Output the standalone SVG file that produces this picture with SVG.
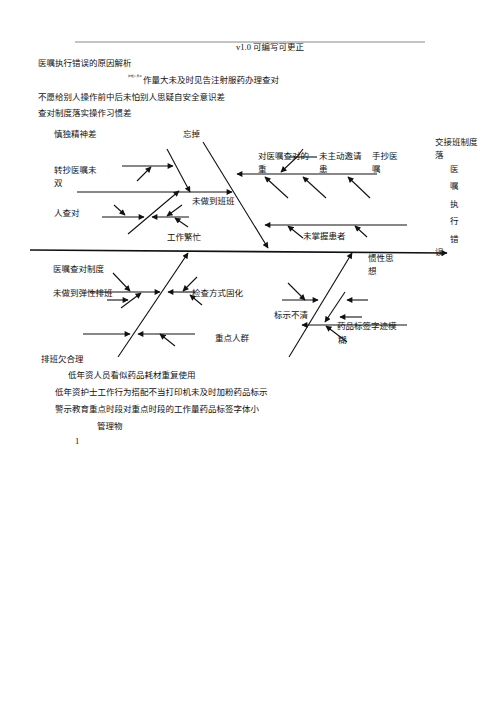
<svg xmlns="http://www.w3.org/2000/svg" width="500" height="708" viewBox="0 0 500 708">
<style>
text{font-family:"Liberation Serif","Noto Sans CJK SC",serif;font-size:8.5px;fill:#111}
.l{stroke:#111;stroke-width:1.1;fill:none}
.a{stroke:#111;stroke-width:1.1;fill:none;marker-end:url(#ah)}
.s{stroke:#111;stroke-width:1.6;fill:none;marker-end:url(#ah)}
.hd{stroke:#888;stroke-width:1}
</style>
<defs>
<marker id="ah" viewBox="0 0 10 10" refX="9" refY="5" markerWidth="7" markerHeight="6" markerUnits="userSpaceOnUse" orient="auto">
<path d="M0,0 L10,5 L0,10 z" fill="#111"/>
</marker>
</defs>
<rect width="500" height="708" fill="#fff"/>
<g id="header">
<line class="hd" x1="75" y1="42" x2="425" y2="42"/>
<text x="236" y="50">v1.0 可编写可更正</text>
</g>
<g id="intro">
<text x="38" y="66">医嘱执行错误的原因解析</text>
<text x="128" y="77" style="font-size:2.8px">护理人员工</text>
<text x="143" y="83">作量大未及时见告注射服药办理查对</text>
<text x="38" y="100">不愿给别人操作前中后未怕别人思疑自安全意识差</text>
<text x="38" y="116">查对制度落实操作习惯差</text>
</g>
<g id="connectors">
<line class="s" x1="30" y1="250" x2="447" y2="253"/>
<line class="a" x1="203" y1="142" x2="268" y2="248"/>
<line class="a" x1="167" y1="149" x2="190" y2="192"/>
<line class="a" x1="77" y1="192" x2="232" y2="192"/>
<line class="a" x1="122" y1="166" x2="173" y2="166"/>
<line class="a" x1="137" y1="181" x2="151" y2="167"/>
<line class="a" x1="128" y1="234" x2="179" y2="191"/>
<line class="a" x1="102" y1="217" x2="144" y2="217"/>
<line class="a" x1="189" y1="217" x2="152" y2="217"/>
<line class="a" x1="114" y1="205" x2="125" y2="215"/>
<line class="a" x1="182" y1="205" x2="167" y2="216"/>
<line class="a" x1="188" y1="227" x2="175" y2="218"/>
<line class="a" x1="377" y1="174" x2="237" y2="174"/>
<line class="a" x1="288" y1="198" x2="265" y2="177"/>
<line class="a" x1="326" y1="198" x2="303" y2="177"/>
<line class="a" x1="370" y1="198" x2="348" y2="177"/>
<line class="l" x1="290" y1="157" x2="317" y2="157"/>
<line class="l" x1="297" y1="157" x2="303" y2="149"/>
<line class="a" x1="297" y1="157" x2="281" y2="172"/>
<line class="a" x1="407" y1="225" x2="265" y2="225"/>
<line class="a" x1="303" y1="238" x2="288" y2="226"/>
<line class="a" x1="367" y1="237" x2="355" y2="226"/>
<line class="a" x1="118" y1="357" x2="188" y2="253"/>
<line class="a" x1="90" y1="292" x2="160" y2="292"/>
<line class="a" x1="113" y1="273" x2="130" y2="291"/>
<line class="a" x1="121" y1="308" x2="141" y2="293"/>
<line class="a" x1="107" y1="300" x2="128" y2="300"/>
<line class="a" x1="195" y1="292" x2="168" y2="292"/>
<line class="a" x1="197" y1="277" x2="183" y2="291"/>
<line class="a" x1="202" y1="305" x2="190" y2="295"/>
<line class="a" x1="83" y1="334" x2="130" y2="334"/>
<line class="a" x1="195" y1="334" x2="138" y2="334"/>
<line class="a" x1="175" y1="346" x2="160" y2="334"/>
<line class="a" x1="289" y1="357" x2="352" y2="253"/>
<line class="a" x1="282" y1="300" x2="318" y2="300"/>
<line class="a" x1="288" y1="283" x2="305" y2="300"/>
<line class="a" x1="368" y1="300" x2="347" y2="300"/>
<line class="a" x1="345" y1="292" x2="325" y2="322"/>
<line class="a" x1="362" y1="317" x2="340" y2="317"/>
<line class="a" x1="407" y1="325" x2="302" y2="325"/>
<line class="a" x1="347" y1="342" x2="326" y2="326"/>
</g>
<g id="n-shendu"><text x="54" y="137">慎独精神差</text></g>
<g id="n-wangdiao"><text x="183" y="137">忘掉</text></g>
<g id="n-zhuanchao"><text x="54" y="173">转抄医嘱未</text><text x="54" y="186">双</text></g>
<g id="n-renchadui"><text x="54" y="216">人查对</text></g>
<g id="n-weizuodao"><text x="192" y="204">未做到班班</text></g>
<g id="n-gongzuo"><text x="167" y="240">工作繁忙</text></g>
<g id="n-duiyizhu"><text x="258" y="159">对医嘱查对的</text><text x="258" y="172">重</text></g>
<g id="n-weizhudong"><text x="319" y="159">未主动邀请</text><text x="319" y="172">患</text></g>
<g id="n-shouchao"><text x="372" y="159">手抄医</text><text x="372" y="172">嘱</text></g>
<g id="n-weizhangwo"><text x="303" y="239">未掌握患者</text></g>
<g id="n-jiaojieban"><text x="435" y="145">交接班制度</text><text x="435" y="158">落</text></g>
<g id="n-head">
<text x="450" y="172">医</text>
<text x="450" y="189">嘱</text>
<text x="450" y="207">执</text>
<text x="450" y="224">行</text>
<text x="450" y="242">错</text>
<text x="435" y="255">误</text>
</g>
<g id="n-yizhuchadui"><text x="53" y="272">医嘱查对制度</text></g>
<g id="n-tanxing"><text x="53" y="296">未做到弹性排班</text></g>
<g id="n-jiancha"><text x="192" y="296">检查方式固化</text></g>
<g id="n-zhongdian"><text x="215" y="341">重点人群</text></g>
<g id="n-paiban"><text x="41" y="362">排班欠合理</text></g>
<g id="n-guanxing"><text x="368" y="261">惯性思</text><text x="368" y="274">想</text></g>
<g id="n-biaoshi"><text x="274" y="318">标示不清</text></g>
<g id="n-yaopin"><text x="337" y="329">药品标签字迹模</text><text x="338" y="343">糊</text></g>
<g id="footer">
<text x="68" y="378">低年资人员看似药品耗材重复使用</text>
<text x="55" y="395">低年资护士工作行为搭配不当打印机未及时加粉药品标示</text>
<text x="55" y="412">警示教育重点时段对重点时段的工作量药品标签字体小</text>
<text x="97" y="429">管理物</text>
<text x="75" y="444">1</text>
</g>
</svg>
